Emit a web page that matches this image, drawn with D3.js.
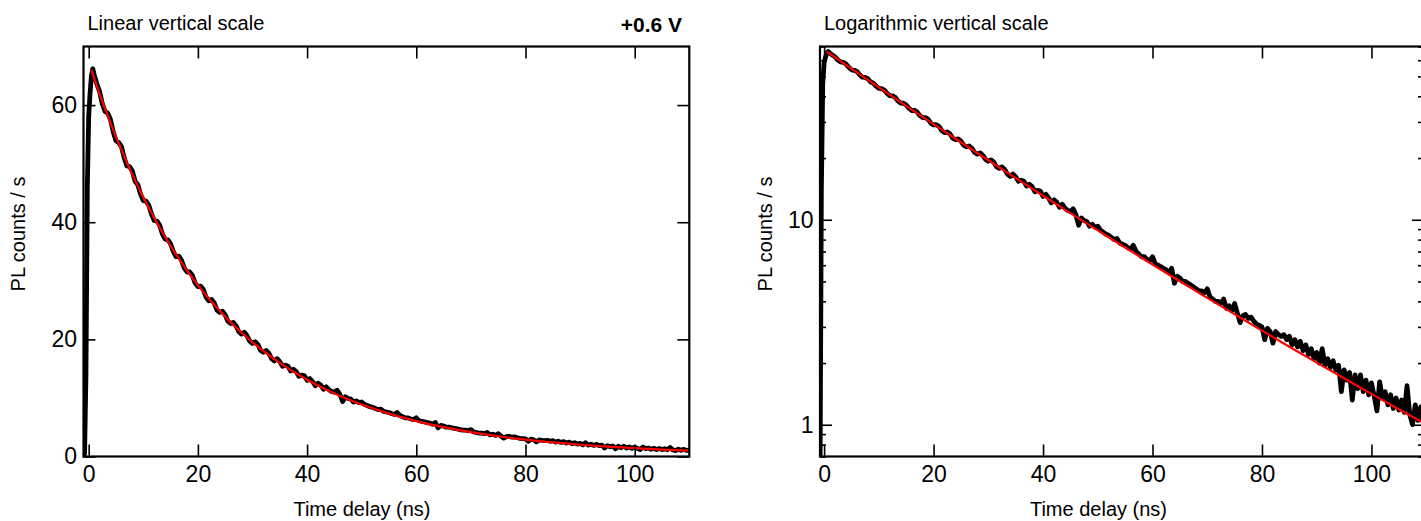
<!DOCTYPE html>
<html lang="en">
<head>
  <meta charset="UTF-8">
  <title>PL decay, +0.6 V</title>
  <style>
    body {
      margin: 0;
      background: #fff;
    }
    svg text {
      font-family: "Liberation Sans", Arial, Helvetica, sans-serif;
      fill: #000;
    }
    .tick text {
      font-size: 23px;
    }
    .tick line {
      stroke: #000;
      stroke-width: 1.6px;
    }
    .frame {
      fill: none;
      stroke: #000;
      stroke-width: 2.2px;
    }
    .data-line {
      fill: none;
      stroke: #000;
      stroke-width: 4.8px;
      stroke-linejoin: round;
    }
    .fit-line {
      fill: none;
      stroke: #ff0000;
      stroke-width: 2.2px;
    }
  </style>
</head>
<body>
  <div id="chart"></div>

  <script src="https://d3js.org/d3.v7.min.js"></script>
  <script>
    // measured trace: the rise, then 0.5 ns bins from 1 to 110 ns
    const riseTime = [-0.9, -0.75, -0.5, -0.25, 0, 0.25, 0.5, 0.75];
    const riseCounts = [0.2, 0.5, 14, 46, 58, 62, 65, 66.2];
    const binStart = 1, binWidth = 0.5;
    const decayCounts = [
      65.2, 63.6, 62.3, 60.2, 58.9, 58.6, 57.5, 55.4, 53.9, 53.6,
      52.9, 51.0, 49.6, 49.5, 48.7, 47.0, 46.4, 44.8, 43.7, 43.6,
      42.9, 41.4, 40.3, 40.2, 39.5, 38.0, 37.1, 37.0, 36.3, 35.0,
      34.1, 34.2, 33.5, 32.2, 31.5, 31.5, 30.9, 29.6, 29.0, 29.1,
      28.5, 27.2, 26.6, 26.8, 26.2, 25.0, 24.6, 24.8, 24.2, 23.1,
      22.7, 22.9, 22.3, 21.3, 20.9, 21.2, 20.6, 19.7, 19.3, 19.6,
      19.1, 18.1, 17.8, 18.1, 17.6, 16.7, 16.3, 16.7, 16.2, 15.4,
      15.6, 15.4, 14.6, 14.9, 14.5, 13.7, 13.9, 13.8, 13.0, 13.3,
      12.8, 12.1, 12.5, 12.2, 11.5, 11.9, 11.4, 11.1, 11.0, 11.3,
      10.6, 9.4, 10.2, 9.9, 9.8, 9.3, 9.5, 9.2, 9.3, 8.9,
      8.7, 8.5, 8.4, 8.2, 8.0, 8.1, 7.7, 7.6, 7.5, 7.3,
      7.2, 7.5, 7.0, 6.8, 6.6, 6.6, 6.4, 6.3, 6.6, 6.1,
      6.0, 5.9, 5.8, 5.7, 5.5, 5.8, 4.9, 5.3, 5.2, 5.0,
      5.0, 4.9, 4.8, 4.7, 4.6, 4.5, 4.5, 4.4, 4.6, 4.2,
      4.1, 4.0, 4.0, 3.9, 4.1, 3.7, 3.8, 3.6, 3.9, 3.5,
      3.15, 3.4, 3.45, 3.3, 3.35, 3.2, 3.1, 3.05, 3.0, 2.6,
      2.95, 2.85, 2.5, 2.85, 2.75, 2.7, 2.75, 2.6, 2.7, 2.45,
      2.6, 2.4, 2.55, 2.3, 2.45, 2.2, 2.35, 2.1, 2.25, 2.0,
      2.35, 1.95, 2.1, 1.9, 2.05, 1.85, 1.95, 1.45, 1.85, 1.65,
      1.8, 1.32, 1.75, 1.5, 1.75, 1.45, 1.65, 1.4, 1.6, 1.38,
      1.17, 1.62, 1.35, 1.45, 1.25, 1.4, 1.2, 1.35, 1.18, 1.32,
      1.15, 1.55, 1.12, 1.0, 1.25, 1.05, 1.22, 1.02, 1.12
    ];

    // fitted decay (red)
    const fitTime = [0.5, 2, 5, 10, 15, 20, 25, 30, 35, 40, 45, 50, 55,
                     60, 65, 70, 75, 80, 85, 90, 95, 100, 105, 110];
    const fitCounts = [66.0, 61.9, 54.57, 44.25, 35.94, 29.26, 23.87, 19.51,
                       15.97, 13.10, 10.77, 8.87, 7.32, 6.05, 5.01, 4.16, 3.46,
                       2.88, 2.40, 2.01, 1.685, 1.415, 1.19, 1.003];

    const timeTicks = [0, 20, 40, 60, 80, 100];
    const linearTicks = [0, 20, 40, 60];
    const logMajorTicks = [1, 10];
    const logMinorTicks = [0.7, 0.8, 0.9, 2, 3, 4, 5, 6, 7, 8, 9, 20, 30, 40, 50, 60, 70];

    const trace = riseTime.map((t, i) => ({ t: t, v: riseCounts[i] }))
      .concat(decayCounts.map((v, i) => ({ t: binStart + i * binWidth, v: v })));
    const fit = fitTime.map((t, i) => ({ t: t, v: fitCounts[i] }));

    const W = 1421, H = 521;
    const plotTop = 46.5, plotBottom = 456.5;

    const svg = d3.select('#chart')
      .append('svg')
      .attr('width', W)
      .attr('height', H);

    function drawPanel(p) {
      const g = svg.append('g');
      const x = d3.scaleLinear().domain(p.xDomain).range([p.left, p.right]);
      const y = p.y;

      const clipId = 'clip-' + p.name;
      svg.append('clipPath').attr('id', clipId)
        .append('rect')
        .attr('x', p.left).attr('y', plotTop)
        .attr('width', p.right - p.left).attr('height', plotBottom - plotTop);

      const line = d3.line().x(d => x(d.t)).y(d => y(d.v));

      const plot = g.append('g').attr('clip-path', `url(#${clipId})`);
      plot.append('path')
        .datum(trace)
        .attr('class', 'data-line')
        .attr('d', line);
      plot.append('path')
        .datum(fit)
        .attr('class', 'fit-line')
        .attr('d', line.curve(d3.curveMonotoneX));

      // x axes, ticks pointing inward
      g.append('g')
        .attr('transform', `translate(0, ${plotBottom})`)
        .call(d3.axisBottom(x).tickValues(timeTicks).tickSize(-12).tickPadding(9).tickFormat(d3.format('d')))
        .call(a => a.select('.domain').remove());
      g.append('g')
        .attr('transform', `translate(0, ${plotTop})`)
        .call(d3.axisTop(x).tickValues(timeTicks).tickSize(-12).tickFormat(''))
        .call(a => a.select('.domain').remove());

      // y axes
      g.append('g')
        .attr('transform', `translate(${p.left}, 0)`)
        .call(d3.axisLeft(y).tickValues(p.yTicks).tickSize(-12).tickPadding(6.5).tickFormat(d3.format('d')))
        .call(a => a.select('.domain').remove());
      g.append('g')
        .attr('transform', `translate(${p.right}, 0)`)
        .call(d3.axisRight(y).tickValues(p.yTicks).tickSize(-12).tickFormat(''))
        .call(a => a.select('.domain').remove());

      if (p.minor) {
        g.append('g')
          .attr('transform', `translate(${p.left}, 0)`)
          .call(d3.axisLeft(y).tickValues(p.minor).tickSize(-6).tickFormat(''))
          .call(a => a.select('.domain').remove());
        g.append('g')
          .attr('transform', `translate(${p.right}, 0)`)
          .call(d3.axisRight(y).tickValues(p.minor).tickSize(-6).tickFormat(''))
          .call(a => a.select('.domain').remove());
      }

      g.append('rect')
        .attr('class', 'frame')
        .attr('x', p.left).attr('y', plotTop)
        .attr('width', p.right - p.left).attr('height', plotBottom - plotTop);

      g.append('text')
        .attr('x', p.left + 4)
        .attr('y', 29.5)
        .style('font-size', '20px')
        .text(p.title);

      g.append('text')
        .attr('x', p.left + 278.5)
        .attr('y', 516)
        .attr('text-anchor', 'middle')
        .style('font-size', '20px')
        .text('Time delay (ns)');

      g.append('text')
        .attr('transform', `translate(${p.labelX}, 234) rotate(-90)`)
        .attr('text-anchor', 'middle')
        .style('font-size', '20px')
        .text('PL counts / s');
    }

    drawPanel({
      name: 'lin',
      left: 83.5, right: 689.3,
      xDomain: [-0.95, 110],
      y: d3.scaleLinear().domain([0, 70]).range([plotBottom, plotTop]),
      yTicks: linearTicks,
      title: 'Linear vertical scale',
      labelX: 25
    });

    drawPanel({
      name: 'log',
      left: 820, right: 1424,
      xDomain: [-0.75, 109.6],
      y: d3.scaleLog().domain([0.7, 70]).range([plotBottom, plotTop]),
      yTicks: logMajorTicks,
      minor: logMinorTicks,
      title: 'Logarithmic vertical scale',
      labelX: 772
    });

    svg.append('text')
      .attr('x', 682)
      .attr('y', 32)
      .attr('text-anchor', 'end')
      .style('font-size', '21px')
      .style('font-weight', 'bold')
      .text('+0.6 V');
  </script>
</body>
</html>
